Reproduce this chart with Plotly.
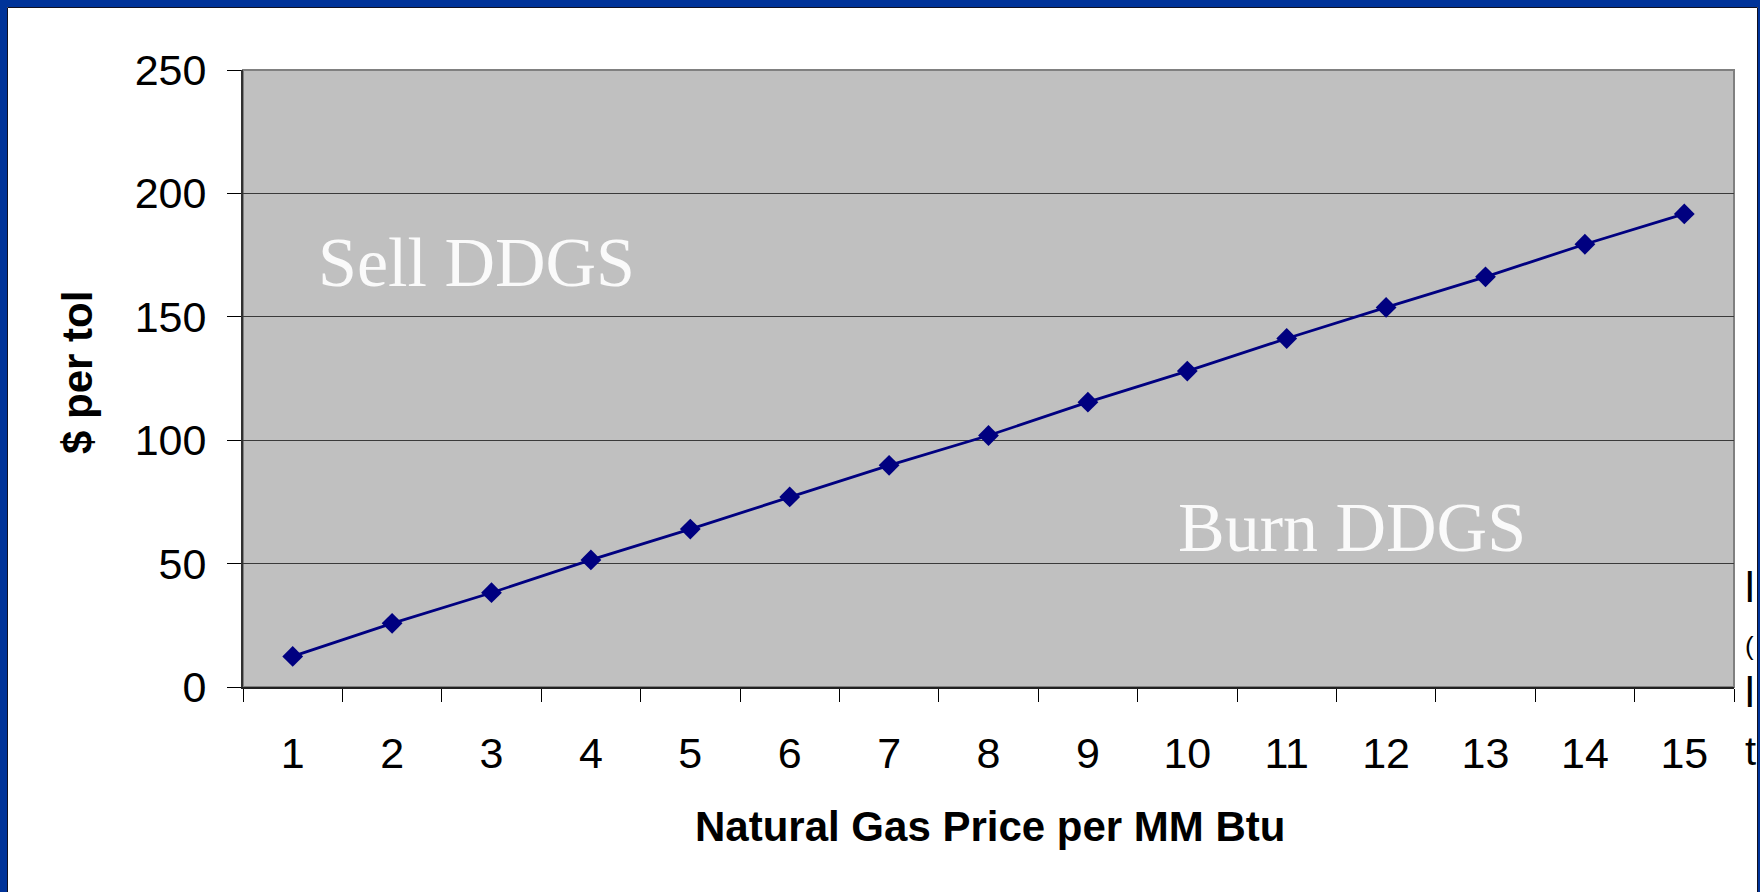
import plotly.graph_objects as go

# ---- data ----
gas_price = ["1", "2", "3", "4", "5", "6", "7", "8", "9", "10", "11", "12", "13", "14", "15"]
dollars_per_ton = [12.4, 25.8, 38.2, 51.5, 64.0, 77.0, 89.8, 101.9, 115.4, 128.0, 141.2, 153.8, 166.2, 179.4, 191.7]
y_ticks = [0, 50, 100, 150, 200, 250]

W, H = 1760, 892
ML, MR, MT, MB = 243, 26, 70, 205
PW, PH = W - ML - MR, H - MT - MB


def px(x):
    return (x - ML) / PW


def py(y):
    return (H - MB - y) / PH


fig = go.Figure()
fig.add_trace(go.Scatter(
    x=gas_price, y=dollars_per_ton, mode="lines+markers",
    line=dict(color="#000080", width=2.8),
    marker=dict(symbol="diamond", size=16, color="#000080"),
    showlegend=False, hoverinfo="x+y",
))

tickfont = dict(family="Liberation Sans, Arial, sans-serif", size=43, color="black")
fig.update_layout(
    width=W, height=H,
    margin=dict(l=ML, r=MR, t=MT, b=MB, pad=0),
    paper_bgcolor="white",
    plot_bgcolor="#c0c0c0",
    xaxis=dict(
        type="category", tickson="boundaries", showgrid=False,
        ticks="outside", ticklen=13, tickcolor="black", tickwidth=1,
        showline=True, linecolor="#202020", linewidth=2,
        tickfont=tickfont, ticklabelstandoff=27,
        range=[-0.5, 14.5], fixedrange=True,
    ),
    yaxis=dict(
        range=[0, 250], tickvals=y_ticks, showgrid=True,
        gridcolor="#3a3a3a", gridwidth=1,
        ticks="outside", ticklen=14, tickcolor="black", tickwidth=1,
        showline=True, linecolor="#303030", linewidth=2,
        tickfont=tickfont, ticklabelstandoff=12, zeroline=False,
        fixedrange=True,
    ),
)

shapes = []
# grey border of plot area
shapes.append(dict(type="rect", xref="paper", yref="paper", x0=0, x1=1, y0=0, y1=1,
                   line=dict(color="#808080", width=2), layer="below"))
# slide frame: blue strips and thin dark inner edge
blue = "#003399"
shapes.append(dict(type="rect", xref="paper", yref="paper", x0=px(-5), x1=px(7), y0=py(H + 5), y1=py(-5),
                   line=dict(width=0), fillcolor=blue, layer="above"))
shapes.append(dict(type="rect", xref="paper", yref="paper", x0=px(-5), x1=px(W + 5), y0=py(7), y1=py(-5),
                   line=dict(width=0), fillcolor=blue, layer="above"))
shapes.append(dict(type="rect", xref="paper", yref="paper", x0=px(1758), x1=px(W + 5), y0=py(H + 5), y1=py(-5),
                   line=dict(width=0), fillcolor=blue, layer="above"))
shapes.append(dict(type="rect", xref="paper", yref="paper", x0=px(7.5), x1=px(1757.5), y0=py(H + 5), y1=py(7.5),
                   line=dict(color="#101020", width=1), fillcolor="rgba(0,0,0,0)", layer="above"))
fig.update_layout(shapes=shapes)

serif = dict(family="Liberation Serif, Times New Roman, serif", size=70, color="#fafafa")
annotations = [
    dict(text="Sell DDGS", x=px(476), y=py(262), xref="paper", yref="paper",
         showarrow=False, font=serif, xanchor="center", yanchor="middle"),
    dict(text="Burn DDGS", x=px(1352), y=py(527), xref="paper", yref="paper",
         showarrow=False, font=serif, xanchor="center", yanchor="middle"),
    dict(text="<b>Natural Gas Price per MM Btu</b>", x=px(990), y=py(827), xref="paper", yref="paper",
         showarrow=False, xanchor="center", yanchor="middle",
         font=dict(family="Liberation Sans, Arial, sans-serif", size=42, color="black")),
    dict(text="<b>$ per tol</b>", x=px(77), y=py(373), xref="paper", yref="paper",
         showarrow=False, xanchor="center", yanchor="middle", textangle=-90,
         font=dict(family="Liberation Sans, Arial, sans-serif", size=42, color="black")),
]
# clipped glyph fragments at the right edge
for t, yy, sz in [("l", 587, 43), ("(", 646, 26), ("l", 692, 43), ("t", 751, 40)]:
    annotations.append(dict(text=t, x=px(1743), y=py(yy), xref="paper", yref="paper",
                            showarrow=False, xanchor="left", yanchor="middle",
                            font=dict(family="Liberation Sans, Arial, sans-serif", size=sz, color="black")))
fig.update_layout(annotations=annotations)

fig.write_html("out.html", config={"displayModeBar": False},
               post_script="document.body.style.margin='0';")
